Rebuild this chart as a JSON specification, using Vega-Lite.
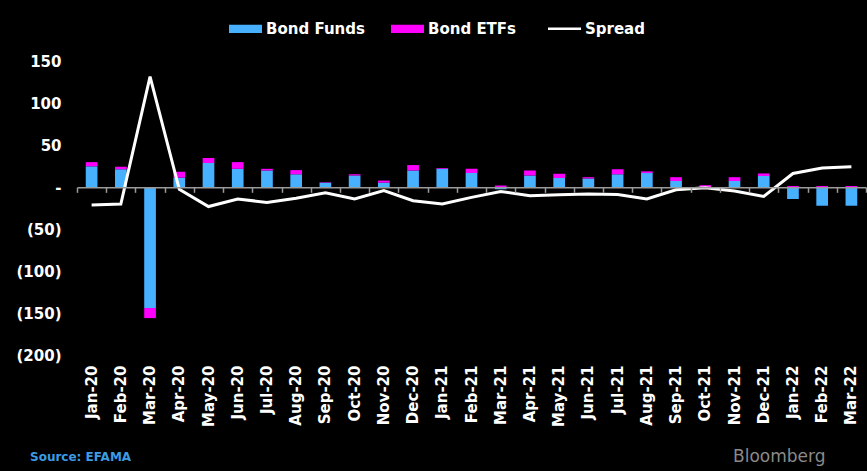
{
  "$schema": "https://vega.github.io/schema/vega-lite/v6.json",
  "autosize": {"type": "none"},
  "padding": {"left": 77, "top": 61.5, "right": 1, "bottom": 116},
  "width": 789,
  "height": 293.5,
  "background": "#000000",
  "config": {"view": {"stroke": null}, "font": "DejaVu Sans"},
  "title": {
    "text": "Source: EFAMA",
    "orient": "bottom",
    "anchor": "start",
    "frame": "group",
    "color": "#3d9be3",
    "font": "DejaVu Sans",
    "fontSize": 12,
    "fontWeight": "bold",
    "dx": -47,
    "dy": -16
  },
  "datasets": {
    "flows": [
      {"month": "Jan-20", "series": "Bond Funds", "value": 25}, {"month": "Jan-20", "series": "Bond ETFs", "value": 5},
      {"month": "Feb-20", "series": "Bond Funds", "value": 21.5}, {"month": "Feb-20", "series": "Bond ETFs", "value": 3},
      {"month": "Mar-20", "series": "Bond Funds", "value": -144}, {"month": "Mar-20", "series": "Bond ETFs", "value": -12},
      {"month": "Apr-20", "series": "Bond Funds", "value": 11.5}, {"month": "Apr-20", "series": "Bond ETFs", "value": 7},
      {"month": "May-20", "series": "Bond Funds", "value": 29}, {"month": "May-20", "series": "Bond ETFs", "value": 6},
      {"month": "Jun-20", "series": "Bond Funds", "value": 22}, {"month": "Jun-20", "series": "Bond ETFs", "value": 8},
      {"month": "Jul-20", "series": "Bond Funds", "value": 20}, {"month": "Jul-20", "series": "Bond ETFs", "value": 2},
      {"month": "Aug-20", "series": "Bond Funds", "value": 15.5}, {"month": "Aug-20", "series": "Bond ETFs", "value": 5},
      {"month": "Sep-20", "series": "Bond Funds", "value": 5.5}, {"month": "Sep-20", "series": "Bond ETFs", "value": 0.5},
      {"month": "Oct-20", "series": "Bond Funds", "value": 14}, {"month": "Oct-20", "series": "Bond ETFs", "value": 1.5},
      {"month": "Nov-20", "series": "Bond Funds", "value": 5.5}, {"month": "Nov-20", "series": "Bond ETFs", "value": 2.5},
      {"month": "Dec-20", "series": "Bond Funds", "value": 20}, {"month": "Dec-20", "series": "Bond ETFs", "value": 6.5},
      {"month": "Jan-21", "series": "Bond Funds", "value": 22}, {"month": "Jan-21", "series": "Bond ETFs", "value": 1},
      {"month": "Feb-21", "series": "Bond Funds", "value": 17}, {"month": "Feb-21", "series": "Bond ETFs", "value": 5},
      {"month": "Mar-21", "series": "Bond Funds", "value": -2.4}, {"month": "Mar-21", "series": "Bond ETFs", "value": 2},
      {"month": "Apr-21", "series": "Bond Funds", "value": 14}, {"month": "Apr-21", "series": "Bond ETFs", "value": 6},
      {"month": "May-21", "series": "Bond Funds", "value": 11}, {"month": "May-21", "series": "Bond ETFs", "value": 5},
      {"month": "Jun-21", "series": "Bond Funds", "value": 10.5}, {"month": "Jun-21", "series": "Bond ETFs", "value": 1.5},
      {"month": "Jul-21", "series": "Bond Funds", "value": 15.5}, {"month": "Jul-21", "series": "Bond ETFs", "value": 6},
      {"month": "Aug-21", "series": "Bond Funds", "value": 17}, {"month": "Aug-21", "series": "Bond ETFs", "value": 2},
      {"month": "Sep-21", "series": "Bond Funds", "value": 7.5}, {"month": "Sep-21", "series": "Bond ETFs", "value": 4.5},
      {"month": "Oct-21", "series": "Bond Funds", "value": 0}, {"month": "Oct-21", "series": "Bond ETFs", "value": 2.5},
      {"month": "Nov-21", "series": "Bond Funds", "value": 7.5}, {"month": "Nov-21", "series": "Bond ETFs", "value": 4.5},
      {"month": "Dec-21", "series": "Bond Funds", "value": 13.5}, {"month": "Dec-21", "series": "Bond ETFs", "value": 3},
      {"month": "Jan-22", "series": "Bond Funds", "value": -14}, {"month": "Jan-22", "series": "Bond ETFs", "value": 1.5},
      {"month": "Feb-22", "series": "Bond Funds", "value": -22}, {"month": "Feb-22", "series": "Bond ETFs", "value": 1.5},
      {"month": "Mar-22", "series": "Bond Funds", "value": -22}, {"month": "Mar-22", "series": "Bond ETFs", "value": 1.5}
    ],
    "spread": [
      {"month": "Jan-20", "spread": -21}, {"month": "Feb-20", "spread": -20}, {"month": "Mar-20", "spread": 132},
      {"month": "Apr-20", "spread": -2.5}, {"month": "May-20", "spread": -23}, {"month": "Jun-20", "spread": -14},
      {"month": "Jul-20", "spread": -18}, {"month": "Aug-20", "spread": -13}, {"month": "Sep-20", "spread": -6.5},
      {"month": "Oct-20", "spread": -14}, {"month": "Nov-20", "spread": -4}, {"month": "Dec-20", "spread": -16},
      {"month": "Jan-21", "spread": -20}, {"month": "Feb-21", "spread": -12}, {"month": "Mar-21", "spread": -5},
      {"month": "Apr-21", "spread": -10}, {"month": "May-21", "spread": -9}, {"month": "Jun-21", "spread": -8},
      {"month": "Jul-21", "spread": -8.5}, {"month": "Aug-21", "spread": -14}, {"month": "Sep-21", "spread": -3},
      {"month": "Oct-21", "spread": -0.5}, {"month": "Nov-21", "spread": -4.5}, {"month": "Dec-21", "spread": -11},
      {"month": "Jan-22", "spread": 16.5}, {"month": "Feb-22", "spread": 23}, {"month": "Mar-22", "spread": 24.5}
    ]
  },
  "resolve": {"axis": {"x": "independent"}},
  "layer": [
    {
      "data": {"name": "flows"},
      "mark": {"type": "bar", "width": {"band": 0.4}},
      "encoding": {
        "x": {
          "field": "month", "type": "ordinal", "sort": null,
          "scale": {"paddingInner": 0, "paddingOuter": 0},
          "axis": {
            "orient": "bottom", "domain": false, "ticks": false, "grid": false,
            "labelAngle": -90, "labelColor": "#ffffff", "labelFont": "DejaVu Sans",
            "labelFontWeight": "bold", "labelFontSize": 15, "labelPadding": 10,
            "title": "Bloomberg", "titleColor": "#8a8a8a", "titleFont": "DejaVu Sans",
            "titleFontWeight": "normal", "titleFontSize": 17, "titleAnchor": "end",
            "titleAlign": "right", "titleBaseline": "alphabetic", "titleX": 748, "titleY": 106
          }
        },
        "y": {
          "field": "value", "type": "quantitative", "stack": "zero",
          "scale": {"domain": [-200, 150], "nice": false, "zero": true},
          "axis": {
            "title": null, "domain": false, "ticks": false, "grid": false,
            "values": [-200, -150, -100, -50, 0, 50, 100, 150],
            "labelColor": "#ffffff", "labelFont": "DejaVu Sans", "labelFontWeight": "bold",
            "labelFontSize": 15, "labelPadding": 16,
            "labelExpr": "datum.value < 0 ? '(' + abs(datum.value) + ')' : (datum.value == 0 ? '-\u2007\u2007' : datum.label + '\u2002')"
          }
        },
        "order": {"field": "series", "sort": "descending"},
        "color": {
          "field": "series", "type": "nominal",
          "scale": {"domain": ["Bond Funds", "Bond ETFs", "Spread"], "range": ["#47b1ff", "#ff00ff", "#ffffff"]},
          "legend": {
            "title": null, "orient": "none", "direction": "horizontal",
            "legendX": 161, "legendY": -40.5,
            "labelColor": "#ffffff", "labelFont": "DejaVu Sans", "labelFontWeight": "bold", "labelFontSize": 15,
            "labelOffset": 13, "columnPadding": 26, "symbolSize": 1089, "symbolStrokeWidth": 0,
            "encode": {
              "symbols": {
                "update": {
                  "shape": {"signal": "datum.label === 'Spread' ? 'stroke' : 'M-1,-0.25H1V0.25H-1Z'"},
                  "stroke": {"signal": "datum.label === 'Spread' ? '#ffffff' : 'transparent'"},
                  "strokeWidth": {"signal": "datum.label === 'Spread' ? 2.5 : 0"},
                  "opacity": {"value": 1}
                }
              }
            }
          }
        }
      }
    },
    {
      "data": {"name": "spread"},
      "mark": {"type": "line", "strokeWidth": 3},
      "encoding": {
        "x": {
          "field": "month", "type": "ordinal", "sort": null,
          "axis": {
            "orient": "top", "offset": -125.8, "labels": false, "title": null, "grid": false,
            "domainColor": "#9a9a9a", "domainWidth": 1.5, "tickColor": "#9a9a9a", "tickWidth": 1.5,
            "tickSize": -5, "tickBand": "extent", "zindex": 1
          }
        },
        "y": {"field": "spread", "type": "quantitative"},
        "color": {"datum": "Spread", "type": "nominal"}
      }
    }
  ]
}
